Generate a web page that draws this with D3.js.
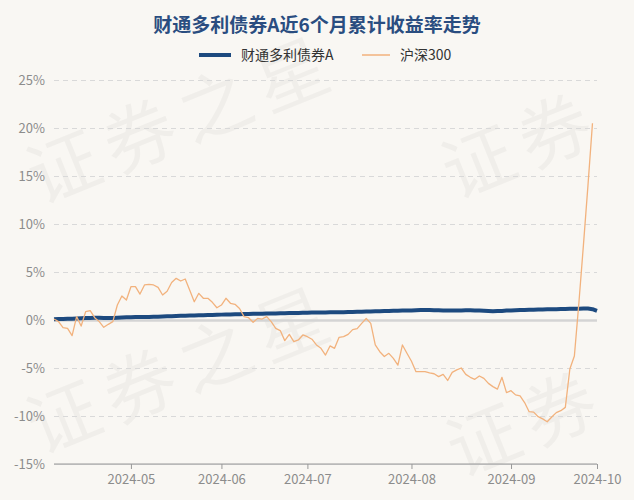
<!DOCTYPE html>
<html>
<head>
<meta charset="utf-8">
<script src="https://cdn.jsdelivr.net/npm/d3@7"></script>
<style>
  html, body { margin: 0; padding: 0; background: #f9f7f3; }
  svg { display: block; font-family: "Noto Sans CJK SC", "Noto Sans", sans-serif; }
</style>
</head>
<body>
<svg id="chart"></svg>
<script>
// trading days, 2024-04-08 .. 2024-10-08
const dates = [
  "2024-04-08","2024-04-09","2024-04-10","2024-04-11","2024-04-12","2024-04-15","2024-04-16","2024-04-17","2024-04-18","2024-04-19",
  "2024-04-22","2024-04-23","2024-04-24","2024-04-25","2024-04-26","2024-04-29","2024-04-30",
  "2024-05-06","2024-05-07","2024-05-08","2024-05-09","2024-05-10","2024-05-13","2024-05-14","2024-05-15","2024-05-16","2024-05-17",
  "2024-05-20","2024-05-21","2024-05-22","2024-05-23","2024-05-24","2024-05-27","2024-05-28","2024-05-29","2024-05-30","2024-05-31",
  "2024-06-03","2024-06-04","2024-06-05","2024-06-06","2024-06-07","2024-06-11","2024-06-12","2024-06-13","2024-06-14",
  "2024-06-17","2024-06-18","2024-06-19","2024-06-20","2024-06-21","2024-06-24","2024-06-25","2024-06-26","2024-06-27","2024-06-28",
  "2024-07-01","2024-07-02","2024-07-03","2024-07-04","2024-07-05","2024-07-08","2024-07-09","2024-07-10","2024-07-11","2024-07-12",
  "2024-07-15","2024-07-16","2024-07-17","2024-07-18","2024-07-19","2024-07-22","2024-07-23","2024-07-24","2024-07-25","2024-07-26",
  "2024-07-29","2024-07-30","2024-07-31",
  "2024-08-01","2024-08-02","2024-08-05","2024-08-06","2024-08-07","2024-08-08","2024-08-09","2024-08-12","2024-08-13","2024-08-14",
  "2024-08-15","2024-08-16","2024-08-19","2024-08-20","2024-08-21","2024-08-22","2024-08-23","2024-08-26","2024-08-27","2024-08-28",
  "2024-08-29","2024-08-30",
  "2024-09-02","2024-09-03","2024-09-04","2024-09-05","2024-09-06","2024-09-09","2024-09-10","2024-09-11","2024-09-12","2024-09-13",
  "2024-09-18","2024-09-19","2024-09-20","2024-09-23","2024-09-24","2024-09-25","2024-09-26","2024-09-27","2024-09-30",
  "2024-10-08"
];

// 财通多利债券A, cumulative %
const fundValues = [
  0.08, 0.10, 0.11, 0.13, 0.14, 0.16, 0.18, 0.20, 0.22, 0.23,
  0.24, 0.22, 0.20, 0.21, 0.24, 0.27, 0.28, 0.29, 0.30, 0.31,
  0.31, 0.32, 0.33, 0.35, 0.37, 0.39, 0.40, 0.42, 0.44, 0.45,
  0.46, 0.48, 0.49, 0.50, 0.52, 0.53, 0.54, 0.56, 0.57, 0.58,
  0.59, 0.61, 0.62, 0.63, 0.64, 0.65, 0.66, 0.67, 0.68, 0.69,
  0.70, 0.71, 0.72, 0.73, 0.74, 0.75, 0.76, 0.77, 0.78, 0.78,
  0.79, 0.80, 0.80, 0.81, 0.82, 0.83, 0.84, 0.86, 0.87, 0.88,
  0.89, 0.90, 0.92, 0.93, 0.95, 0.96, 0.97, 0.98, 0.99, 1.00,
  1.02, 1.04, 1.04, 1.03, 1.02, 1.01, 1.00, 0.99, 0.99, 0.98,
  1.00, 1.01, 1.01, 1.00, 0.99, 0.97, 0.95, 0.92, 0.93, 0.95,
  0.98, 1.00, 1.02, 1.04, 1.05, 1.07, 1.08, 1.09, 1.10, 1.11,
  1.12, 1.13, 1.14, 1.15, 1.16, 1.17, 1.18, 1.19, 1.19, 1.13,
  0.96
];

// 沪深300, cumulative %
const hs300Values = [
  0.10, -0.17, -0.80, -0.87, -1.63, 0.35, -0.63, 0.87, 0.97, 0.24,
  -0.17, -0.76, -0.45, -0.17, 1.56, 2.50, 2.08, 3.47, 3.47, 2.70,
  3.65, 3.72, 3.65, 3.40, 2.60, 3.00, 3.90, 4.34, 4.06, 4.27,
  3.10, 1.90, 2.78, 2.26, 2.26, 1.84, 1.28, 1.56, 2.26, 1.74,
  1.63, 1.20, 0.35, 0.24, -0.24, 0.17, 0.10, 0.35, -0.17, -0.87,
  -1.10, -2.15, -1.50, -2.26, -2.08, -1.56, -1.74, -2.00, -2.60, -2.95,
  -3.65, -2.70, -2.95, -1.80, -1.74, -1.50, -1.00, -0.90, -0.35, 0.15,
  -0.35, -2.60, -3.30, -3.80, -3.47, -4.00, -4.70, -2.60, -3.47, -4.30,
  -5.38, -5.38, -5.38, -5.50, -5.60, -5.90, -5.66, -6.30, -5.45, -5.20,
  -5.00, -5.66, -5.97, -6.18, -5.83, -6.08, -6.60, -6.94, -7.20, -5.97,
  -7.57, -7.36, -7.80, -7.90, -8.60, -9.55, -9.60, -10.07, -10.30, -10.60,
  -10.10, -9.65, -9.45, -9.10, -5.10, -3.75, 1.80, 7.80, 14.00, 20.50
];

const yTicks = [-15, -10, -5, 0, 5, 10, 15, 20, 25];
const monthTicks = ["2024-05-06", "2024-06-03", "2024-07-01", "2024-08-01", "2024-09-02", "2024-10-08"];
const monthLabels = ["2024-05", "2024-06", "2024-07", "2024-08", "2024-09", "2024-10"];
const seriesNames = ["财通多利债券A", "沪深300"];
const titleText = "财通多利债券A近6个月累计收益率走势";
const watermarks = ["证券之星", "证券之星", "证券", "证券"];

const W = 634, H = 500;
const margin = { top: 80, right: 37, bottom: 36, left: 54 };
const blue = "#1d4a7f", orange = "#f2b27d";

const svg = d3.select("#chart").attr("width", W).attr("height", H);
svg.append("rect").attr("width", W).attr("height", H).attr("fill", "#f9f7f3");

// faint watermark
const wm = svg.append("g").attr("fill", "#000").attr("fill-opacity", 0.035)
  .attr("font-size", 72).attr("letter-spacing", 10).attr("font-family", "Noto Sans CJK SC");
[[40, 205], [40, 455], [455, 200], [460, 478]].forEach(function (p, i) {
  wm.append("text").attr("transform", "translate(" + p[0] + "," + p[1] + ") rotate(-22)").text(watermarks[i]);
});

const x = d3.scalePoint().domain(dates).range([margin.left, W - margin.right]);
const y = d3.scaleLinear().domain([-15, 25]).range([H - margin.bottom, margin.top]);

// title
svg.append("text")
  .attr("x", W / 2).attr("y", 32)
  .attr("text-anchor", "middle")
  .attr("font-size", 19).attr("font-weight", "bold")
  .attr("fill", "#2a4d80")
  .text(titleText);

// legend
const legend = svg.append("g").attr("font-size", 14).attr("fill", "#333");
legend.append("line").attr("x1", 199).attr("x2", 231).attr("y1", 55).attr("y2", 55)
  .attr("stroke", blue).attr("stroke-width", 4);
legend.append("text").attr("x", 241).attr("y", 60).text(seriesNames[0]);
legend.append("line").attr("x1", 362).attr("x2", 390).attr("y1", 55).attr("y2", 55)
  .attr("stroke", orange).attr("stroke-width", 1.5);
legend.append("text").attr("x", 400).attr("y", 60).text(seriesNames[1]);

// y grid + labels
const yAxis = svg.append("g")
  .attr("transform", "translate(" + margin.left + ",0)")
  .call(d3.axisLeft(y).tickValues(yTicks).tickSize(-(W - margin.left - margin.right))
    .tickPadding(9).tickFormat(function (d) { return d + "%"; }));
yAxis.select(".domain").remove();
yAxis.selectAll(".tick line")
  .attr("stroke-dasharray", function (d) { return d === 0 || d === -15 ? null : "5,4"; })
  .attr("stroke-width", function (d) { return d === 0 ? 2.5 : 1; })
  .attr("stroke", function (d) { return d === 0 ? "#d4d4d4" : "#d9d9d9"; });
yAxis.selectAll(".tick text").attr("fill", "#8c8c8c").attr("font-size", 13)
  .attr("font-family", "Noto Sans CJK SC");

// x axis
const xAxis = svg.append("g")
  .attr("transform", "translate(0," + (H - margin.bottom) + ")")
  .call(d3.axisBottom(x).tickValues(monthTicks).tickSize(5).tickPadding(6)
    .tickFormat(function (d) { return monthLabels[monthTicks.indexOf(d)]; }));
xAxis.select(".domain").attr("stroke", "#999").attr("d",
  "M" + margin.left + ",0H" + (W - margin.right));
xAxis.selectAll(".tick line").attr("stroke", "#999");
xAxis.selectAll(".tick text").attr("fill", "#8c8c8c").attr("font-size", 13)
  .attr("font-family", "Noto Sans CJK SC");

// lines
const line = d3.line()
  .x(function (d, i) { return x(dates[i]); })
  .y(function (d) { return y(d); });

svg.append("path")
  .datum(fundValues)
  .attr("fill", "none")
  .attr("stroke", blue)
  .attr("stroke-width", 4)
  .attr("stroke-linejoin", "round")
  .attr("d", line);

svg.append("path")
  .datum(hs300Values)
  .attr("fill", "none")
  .attr("stroke", orange)
  .attr("stroke-width", 1.3)
  .attr("stroke-linejoin", "round")
  .attr("d", line);
</script>
</body>
</html>
